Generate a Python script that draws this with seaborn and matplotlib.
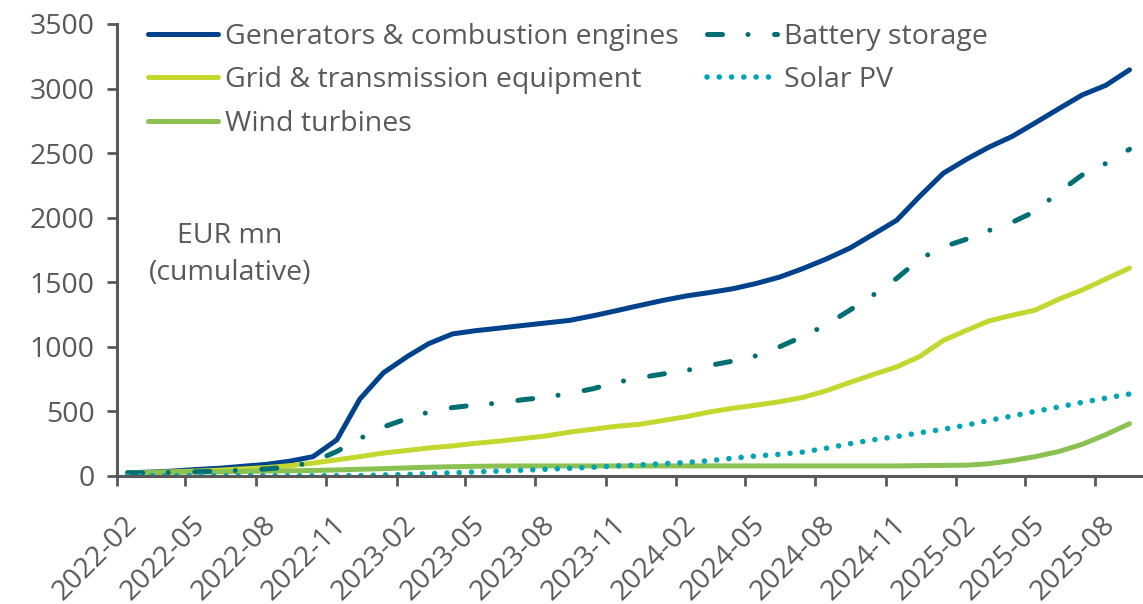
import matplotlib
matplotlib.use("Agg")
import matplotlib.pyplot as plt
import matplotlib.dates as mdates
from matplotlib.transforms import ScaledTranslation
import seaborn as sns
import pandas as pd
import numpy as np

months = [
    "2022-02", "2022-03", "2022-04", "2022-05", "2022-06", "2022-07", "2022-08", "2022-09",
    "2022-10", "2022-11", "2022-12", "2023-01", "2023-02", "2023-03", "2023-04", "2023-05",
    "2023-06", "2023-07", "2023-08", "2023-09", "2023-10", "2023-11", "2023-12", "2024-01",
    "2024-02", "2024-03", "2024-04", "2024-05", "2024-06", "2024-07", "2024-08", "2024-09",
    "2024-10", "2024-11", "2024-12", "2025-01", "2025-02", "2025-03", "2025-04", "2025-05",
    "2025-06", "2025-07", "2025-08", "2025-09",
]

generators = [25, 30, 38, 50, 60, 75, 90, 115, 150, 280, 595, 800, 925, 1025, 1100, 1125,
              1145, 1165, 1185, 1205, 1240, 1280, 1320, 1360, 1395, 1420, 1450, 1490, 1540,
              1605, 1680, 1765, 1870, 1980, 2165, 2345, 2455, 2545, 2630, 2735, 2845, 2950,
              3025, 3145]
grid = [25, 28, 32, 38, 45, 55, 65, 80, 100, 125, 150, 178, 198, 217, 233, 253, 270, 290,
        310, 340, 362, 385, 400, 430, 460, 495, 525, 548, 575, 608, 660, 725, 785, 845, 925,
        1050, 1130, 1200, 1245, 1285, 1370, 1440, 1525, 1610]
wind = [25, 27, 29, 31, 33, 35, 38, 40, 43, 47, 52, 57, 63, 68, 72, 75, 77, 78, 78, 78, 78,
        78, 78, 78, 78, 78, 78, 78, 78, 78, 78, 78, 78, 78, 80, 82, 84, 95, 120, 150, 190,
        245, 320, 405]
battery = [25, 25, 28, 32, 38, 45, 55, 70, 110, 190, 290, 380, 445, 495, 530, 550, 565, 590,
           610, 640, 675, 725, 760, 790, 818, 855, 890, 930, 1000, 1080, 1170, 1285, 1400,
           1530, 1680, 1775, 1835, 1900, 1965, 2050, 2200, 2330, 2420, 2530]
solar = [2, 2, 2, 2, 2, 2, 2, 2, 2, 3, 3, 8, 12, 18, 25, 32, 38, 45, 52, 60, 68, 78, 86, 95,
         105, 118, 138, 155, 168, 185, 215, 250, 280, 305, 335, 362, 395, 430, 465, 500, 535,
         570, 603, 635]

labels = ["Generators & combustion engines", "Grid & transmission equipment", "Wind turbines",
          "Battery storage", "Solar PV"]
colors = ["#00428c", "#c3d72f", "#8bc152", "#006f73", "#00a5b5"]

sns.set_style("white")
plt.rcParams["font.family"] = ["Open Sans", "DejaVu Sans"]
TXT = "#595959"

dates = pd.to_datetime(months) + pd.Timedelta(days=14)

fig = plt.figure(figsize=(11.43, 6.04), dpi=100)
ax = fig.add_axes([117 / 1143, 1 - 476 / 604, (1141 - 117) / 1143, (476 - 24) / 604])

series = [generators, grid, wind, battery, solar]
lw = 3.6
for name, vals, col in zip(labels, series, colors):
    df = pd.DataFrame({"date": dates, "value": vals})
    sns.lineplot(data=df, x="date", y="value", ax=ax, color=col, linewidth=lw, label=name,
                 solid_capstyle="round")
    line = ax.lines[-1]
    if name == "Battery storage":
        line.set_linestyle((0, (3.0, 5.1, 0.01, 5.3)))
        line.set_dash_capstyle("round")
    elif name == "Solar PV":
        line.set_linewidth(4.0)
        line.set_linestyle((0, (0.01, 2.2)))
        line.set_dash_capstyle("round")

ax.set_ylim(0, 3500)
ax.set_yticks(np.arange(0, 3501, 500))
ax.set_xlim(pd.Timestamp("2022-02-01"), pd.Timestamp("2025-09-30"))
ax.xaxis.set_major_locator(mdates.MonthLocator(bymonth=[2, 5, 8, 11]))
ax.xaxis.set_major_formatter(mdates.DateFormatter("%Y-%m"))
ax.set_xlabel("")
ax.set_ylabel("")

for s in ["top", "right"]:
    ax.spines[s].set_visible(False)
for s in ["left", "bottom"]:
    ax.spines[s].set_color(TXT)
    ax.spines[s].set_linewidth(2.2)

fs = 20.5
ax.tick_params(axis="both", colors=TXT, labelsize=fs, length=7, width=2, direction="out",
               left=True, bottom=True)
ax.tick_params(axis="y", pad=9)
offset = ScaledTranslation(16 / 100, -30 / 100, fig.dpi_scale_trans)
for lab in ax.get_xticklabels():
    lab.set_rotation(45)
    lab.set_ha("right")
    lab.set_va("center")
    lab.set_rotation_mode("anchor")
    lab.set_transform(lab.get_transform() + offset)

ax.text(0.110, 0.49, "EUR mn\n(cumulative)", transform=ax.transAxes, ha="center",
        va="center", fontsize=fs, color=TXT, linespacing=1.4)

leg = ax.legend(loc="upper left", bbox_to_anchor=(0.005, 1.06), ncol=2, frameon=False,
                fontsize=fs, handlelength=2.45, handletextpad=0.25, columnspacing=1.0,
                labelspacing=0.55)
for t in leg.get_texts():
    t.set_color(TXT)

fig.savefig("out.png", dpi=100)
